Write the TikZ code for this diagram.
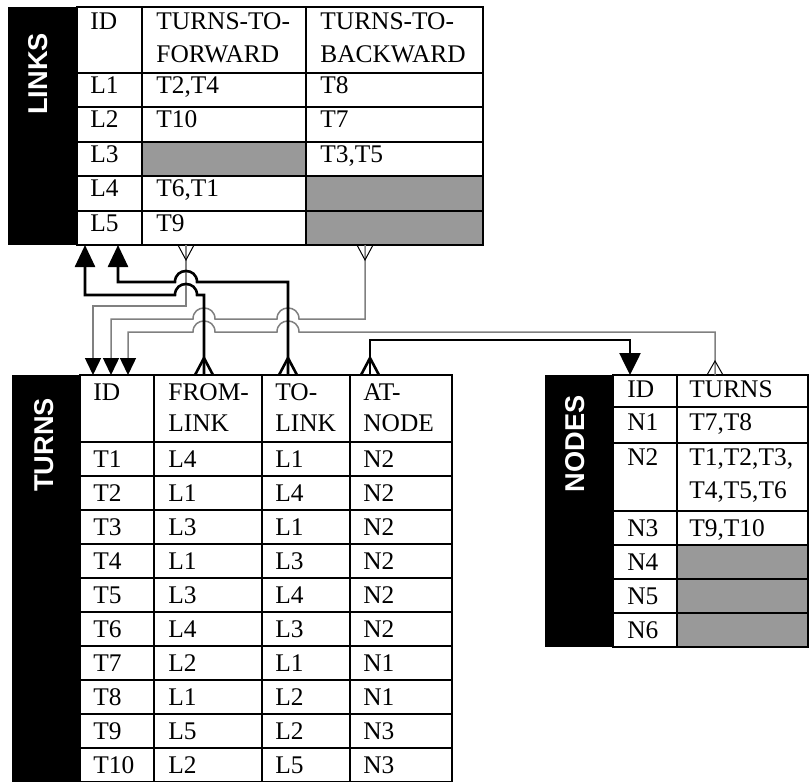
\documentclass[tikz,border=0pt]{standalone}
\usepackage{fontspec}
\setmainfont{Liberation Serif}
\newfontfamily\bandfont{Liberation Sans}
\usetikzlibrary{arrows.meta}

\begin{document}
\begin{tikzpicture}[x=0.5pt,y=-0.5pt,font=\fontsize{12.7}{15}\selectfont,band/.style={fill=black,draw=none},bandlabel/.style={rotate=90,text=white,inner sep=0pt,font=\bandfont\bfseries\fontsize{13.6}{16}\selectfont},grid/.style={draw=black,line width=1pt},emptycell/.style={fill=black!40,draw=none},cell/.style={anchor=base west,inner sep=0pt},thinlink/.style={draw=black!50,line width=0.75pt},thicklink/.style={draw=black,line width=1.3pt},crowthin/.style={draw=black,line width=0.5pt},upkey/.style={-{Triangle[length=11pt,width=10pt]}},downkey/.style={-{Triangle[length=8.5pt,width=8pt,color=black]}}]
\useasboundingbox (0,0) rectangle (809,782);
% LINKS
\fill[band] (8,7) rectangle (77,245);
\fill[emptycell] (142,141.8) rectangle (306,176.2); \fill[emptycell] (306,176.2) rectangle (483,245);
\draw[grid] (77,7) rectangle (483,245); \foreach \x in {142,306} \draw[grid] (\x,7) -- (\x,245); \foreach \y in {73,107.4,141.8,176.2,210.6} \draw[grid] (77,\y) -- (483,\y);
\node[bandlabel] (lk-title) at (38,74) {LINKS};
\node[cell] (lk-h-id) at (90,29) {ID}; \node[cell] (lk-h-fw) at (156,29) {TURNS-TO-}; \node[cell] (lk-h-fw2) at (156,62) {FORWARD}; \node[cell] (lk-h-bw) at (320,29) {TURNS-TO-}; \node[cell] (lk-h-bw2) at (320,62) {BACKWARD};
\foreach \id/\fw/\bw [count=\i] in {L1/{T2,T4}/T8,L2/T10/T7,L3/{}/{T3,T5},L4/{T6,T1}/{},L5/T9/{}} {\node[cell] (lk-id-\i) at (90,{73+34.4*(\i-1)+20.5}) {\id}; \node[cell] (lk-fw-\i) at (156,{73+34.4*(\i-1)+20.5}) {\fw}; \node[cell] (lk-bw-\i) at (320,{73+34.4*(\i-1)+20.5}) {\bw};}
% TURNS
\fill[band] (12,375) rectangle (80,782);
\draw[grid] (80,375) rectangle (452,782); \foreach \x in {154,262,350} \draw[grid] (\x,375) -- (\x,782); \foreach \y in {442,476,510,544,578,612,646,680,714,748} \draw[grid] (80,\y) -- (452,\y);
\node[bandlabel] (tr-title) at (44,445) {TURNS};
\node[cell] (tr-h-id) at (93,400) {ID}; \node[cell] (tr-h-from) at (168,400) {FROM-}; \node[cell] (tr-h-from2) at (168,431) {LINK}; \node[cell] (tr-h-to) at (275,400) {TO-}; \node[cell] (tr-h-to2) at (275,431) {LINK}; \node[cell] (tr-h-at) at (363,400) {AT-}; \node[cell] (tr-h-at2) at (363,431) {NODE};
\foreach \id/\from/\to/\at [count=\i] in {T1/L4/L1/N2,T2/L1/L4/N2,T3/L3/L1/N2,T4/L1/L3/N2,T5/L3/L4/N2,T6/L4/L3/N2,T7/L2/L1/N1,T8/L1/L2/N1,T9/L5/L2/N3,T10/L2/L5/N3} {\node[cell] (tr-id-\i) at (93,{442+34*(\i-1)+25}) {\id}; \node[cell] (tr-from-\i) at (168,{442+34*(\i-1)+25}) {\from}; \node[cell] (tr-to-\i) at (275,{442+34*(\i-1)+25}) {\to}; \node[cell] (tr-at-\i) at (363,{442+34*(\i-1)+25}) {\at};}
% NODES
\fill[band] (545,375) rectangle (613,647);
\fill[emptycell] (677,545) rectangle (808,647);
\draw[grid] (613,375) rectangle (808,647); \draw[grid] (677,375) -- (677,647); \foreach \y in {407,443,545,579,613} \draw[grid] (613,\y) -- (808,\y); \draw[grid] (613,511) -- (808,511);
\node[bandlabel] (nd-title) at (575,444) {NODES};
\node[cell] (nd-h-id) at (627,397) {ID}; \node[cell] (nd-h-turns) at (689,397) {TURNS};
\node[cell] (nd-id-1) at (627,430) {N1}; \node[cell] (nd-turns-1) at (689,430) {T7,T8};
\node[cell] (nd-id-2) at (627,465) {N2}; \node[cell] (nd-turns-2) at (689,465) {T1,T2,T3,}; \node[cell] (nd-turns-2b) at (689,498) {T4,T5,T6};
\node[cell] (nd-id-3) at (627,536) {N3}; \node[cell] (nd-turns-3) at (689,536) {T9,T10};
\foreach \i/\y in {4/570,5/604,6/638} \node[cell] (nd-id-\i) at (627,\y) {N\i};
% link ends
\coordinate (lk-a) at (85,245); \coordinate (lk-b) at (118,245); \coordinate (lk-fw) at (186,245); \coordinate (lk-bw) at (365,245);
\coordinate (tr-a) at (93,375); \coordinate (tr-b) at (111,375); \coordinate (tr-c) at (128,375); \coordinate (tr-from) at (204,375); \coordinate (tr-to) at (288,375); \coordinate (tr-at) at (370,375);
\coordinate (nd-id) at (630,375); \coordinate (nd-turns) at (715,375);
% connectors
\draw[thinlink,downkey] (lk-fw) -- (186,306) -| (tr-a);
\draw[thinlink,downkey] (lk-bw) -- (365,319) -- (299,319) .. controls (299,304.3) and (277,304.3) .. (277,319) -- (215,319) .. controls (215,304.3) and (193,304.3) .. (193,319) -| (tr-b);
\draw[thinlink,{Triangle[length=8.5pt,width=8pt,color=black]}-] (tr-c) -- (128,332) -- (193,332) .. controls (193,317.3) and (215,317.3) .. (215,332) -- (277,332) .. controls (277,317.3) and (299,317.3) .. (299,332) -| (nd-turns);
\draw[thicklink,upkey] (tr-from) -- (204,295) -- (197,295) .. controls (197,280.3) and (175,280.3) .. (175,295) -| (lk-a);
\draw[thicklink,upkey] (tr-to) -- (288,282) -- (197,282) .. controls (197,267.3) and (175,267.3) .. (175,282) -| (lk-b);
\draw[thicklink,-{Triangle[length=11pt,width=10.5pt]}] (tr-at) -- (370,340) -| (nd-id);
% crow's feet
\foreach \c in {tr-from,tr-to,tr-at} \draw[thicklink] ([xshift=-4.5pt]\c) -- ([yshift=8.5pt]\c) -- ([xshift=4.5pt]\c);
\foreach \c in {lk-fw,lk-bw} \draw[crowthin] ([xshift=-4pt]\c) -- ([yshift=-7.5pt]\c) -- ([xshift=4pt]\c);
\draw[crowthin] ([xshift=-4pt]nd-turns) -- ([yshift=7pt]nd-turns) -- ([xshift=4pt]nd-turns);
\end{tikzpicture}
\end{document}
